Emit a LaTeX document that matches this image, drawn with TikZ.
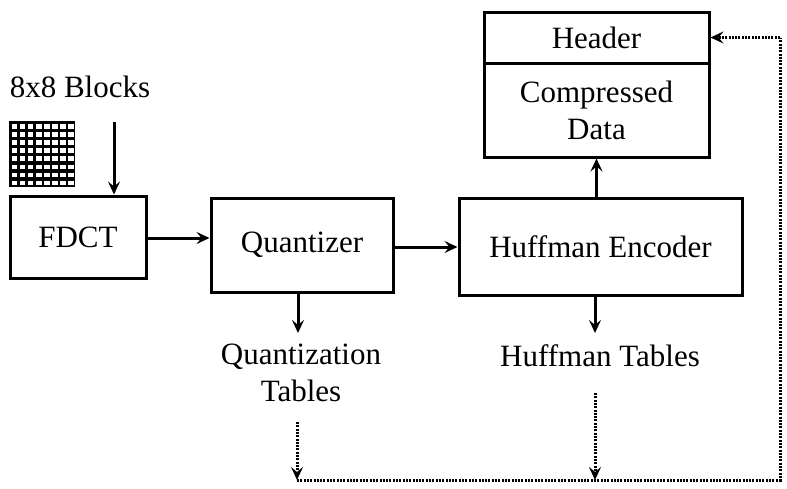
\documentclass[tikz,border=0pt]{standalone}
\usepackage{fontspec}
\setmainfont{Liberation Serif}
\usetikzlibrary{arrows.meta,calc}
\begin{document}
\begin{tikzpicture}[x=1pt,y=-1pt,
  txt/.style={font=\fontsize{31}{37}\selectfont, inner sep=0pt},
  blk/.style={draw, line width=3pt, minimum width=#1, inner sep=0pt},
  arr/.style={line width=3pt, -{Stealth[length=13pt,width=12pt,inset=5pt]}},
  dot/.style={line width=3pt, dash pattern=on 2pt off 1.3pt},
  darr/.style={dot, -{Stealth[length=13pt,width=12pt,inset=5pt]}}]
\useasboundingbox (0,0) rectangle (787,488);
\fill[white] (0,0) rectangle (787,488);
% grid of 8x8 blocks
\fill[black] (9,121) rectangle (75,187);
\foreach \i in {0,...,7}{\foreach \j in {0,...,7}{
  \fill[white] ({11.5+\i*8.1},{124+\j*8.1}) rectangle ({17.2+\i*8.1},{128.6+\j*8.1});}}
\node[txt, anchor=base] (blocks) at (80,97) {8x8 Blocks};
\coordinate (b1) at (114,122);
% boxes
\node[blk=136pt, minimum height=82pt, txt] (fdct) at (78,237) {FDCT};
\node[blk=182pt, minimum height=94pt, txt] (quant) at (302,245) {Quantizer};
\node[blk=283pt, minimum height=97pt, txt] (huff) at (600.5,246.5) {Huffman Encoder};
\node[blk=225pt, minimum height=51pt, txt] (header) at (596.5,37.5) {Header};
\node[blk=225pt, minimum height=94pt, txt, align=center] (comp) at (596.5,110) {Compressed\\Data};
% labels
\node[txt, align=center, anchor=north] (qt) at (301,344) {Quantization\\Tables};
\node[txt, anchor=north] (ht) at (600,344) {Huffman Tables};
% solid arrows
\draw[arr] (b1) -- (b1 |- fdct.north);
\draw[arr] (fdct.east |- 0,238) -- (quant.west |- 0,238);
\draw[arr] (quant.east |- 0,247) -- (huff.west |- 0,247);
\draw[arr] (comp.south |- huff.north) -- (comp.south);
\draw[arr] (quant.south -| 298,0) -- ($(qt.north -| 298,0)+(0,-11)$);
\draw[arr] (huff.south -| 595,0) -- ($(ht.north -| 595,0)+(0,-11)$);
% dotted feedback
\coordinate (d1) at (297,422);
\coordinate (d2) at (595,393);
\coordinate (c1) at (297,480);
\coordinate (c2) at (780,480);
\coordinate (c3) at (780,37.5);
\draw[darr] (d1) -- (d1 |- c1);
\draw[darr] (d2) -- (d2 |- c1);
\draw[dot] (c1) -- (c2) -- (c3);
\draw[darr] (c3) -- (header.east);
\end{tikzpicture}
\end{document}
